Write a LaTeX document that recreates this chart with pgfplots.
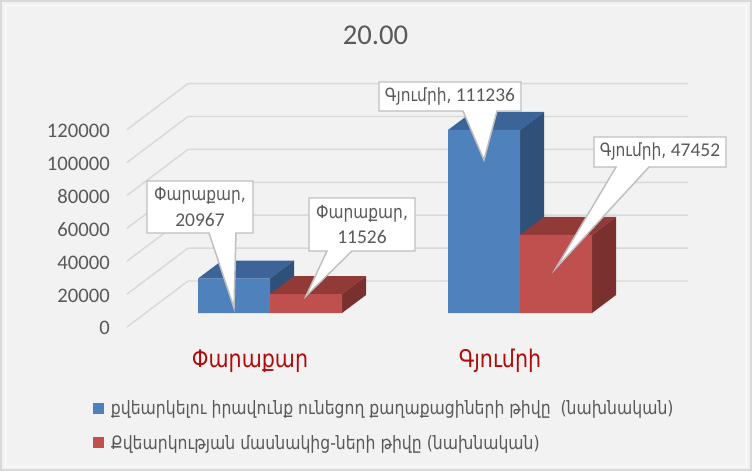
\documentclass[border=0pt]{standalone}
\usepackage{fontspec}
\usepackage{pgfplots}
\pgfplotsset{compat=1.18}
\setmainfont{Carlito}
\newfontfamily\arm[FakeStretch=0.85]{DejaVu Sans}
\definecolor{bgc}{HTML}{F2F2F2}
\definecolor{gridc}{HTML}{D9D9D9}
\definecolor{txt}{HTML}{595959}
\definecolor{bluef}{HTML}{4F81BD}
\definecolor{bluet}{HTML}{3C6499}
\definecolor{blues}{HTML}{2F5179}
\definecolor{redf}{HTML}{C0504D}
\definecolor{redt}{HTML}{913A37}
\definecolor{reds}{HTML}{7A302E}
\definecolor{catc}{HTML}{B00A0A}
\pgfplotsset{sq legend/.style={legend image code/.code={\fill[##1] (0pt,-4pt) rectangle (8.25pt,4.25pt);}}}
\begin{document}
\begin{tikzpicture}
\path[use as bounding box] (0,0) rectangle (564pt,353.25pt);
\begin{axis}[
    scale only axis,
    width=564pt, height=353.25pt,
    xmin=-1.08, xmax=1.928,
    ymin=-96040, ymax=190257,
    axis background/.style={fill=bgc},
    axis line style={draw=none},
    major tick length=0pt,
    /pgf/number format/assume math mode=true,
    /pgf/number format/fixed,
    /pgf/number format/1000 sep={},
    xtick={0,1},
    xticklabels={Փարաքար,Գյումրի},
    x tick label style={font=\arm\fontsize{18.2}{20}\selectfont, text=catc, anchor=center, xshift=-15pt, yshift=82.5pt},
    ytick={0,20000,40000,60000,80000,100000,120000},
    scaled y ticks=false,
    y tick label style={font=\fontsize{15.5}{18}\selectfont, text=txt, anchor=east, xshift=82.5pt, yshift=-11.5pt},
    tick label style={inner sep=0pt},
    title={20.00},
    title style={at={(axis description cs:0.4993,0.9087)}, anchor=center, font=\fontsize{21.5}{24}\selectfont, text=txt},
    clip=false,
    legend style={at={(axis description cs:0.1237,0.155)}, anchor=north west, draw=none, fill=none,
        font=\arm\fontsize{13.8}{16}\selectfont, text=txt, row sep=9.6pt, column sep=3pt, inner sep=0pt, cells={anchor=west}},
]
% walls and grid lines
\addplot[gridc, line width=1.1pt, forget plot] coordinates {(-0.572,-8510) (-0.328,19451) (1.672,19451)};
\addplot[gridc, line width=1.1pt, forget plot] coordinates {(-0.572,11490) (-0.328,39451) (1.672,39451)};
\addplot[gridc, line width=1.1pt, forget plot] coordinates {(-0.572,31490) (-0.328,59451) (1.672,59451)};
\addplot[gridc, line width=1.1pt, forget plot] coordinates {(-0.572,51490) (-0.328,79451) (1.672,79451)};
\addplot[gridc, line width=1.1pt, forget plot] coordinates {(-0.572,71490) (-0.328,99451) (1.672,99451)};
\addplot[gridc, line width=1.1pt, forget plot] coordinates {(-0.572,91490) (-0.328,119451) (1.672,119451)};
\addplot[gridc, line width=1.1pt, forget plot] coordinates {(-0.572,111490) (-0.328,139451) (1.672,139451)};

% first series
\addplot[fill=bluet, draw=none, forget plot] coordinates {(-0.288,20967) (0,20967) (0.096,31908) (-0.192,31908)} -- cycle;
\addplot[fill=blues, draw=none, forget plot] coordinates {(0,0) (0.096,10941) (0.096,31908) (0,20967)} -- cycle;
\addplot[fill=bluet, draw=none, forget plot] coordinates {(0.712,111236) (1,111236) (1.096,122177) (0.808,122177)} -- cycle;
\addplot[fill=blues, draw=none, forget plot] coordinates {(1,0) (1.096,10941) (1.096,122177) (1,111236)} -- cycle;
\addplot[ybar, bar width=0.288, bar shift=-0.144, fill=bluef, draw=none, sq legend] coordinates {(0,20967) (1,111236)};
\addlegendentry{քվեարկելու իրավունք ունեցող քաղաքացիների թիվը\ \ (նախնական)}

% second series
\addplot[fill=redt, draw=none, forget plot] coordinates {(0,11526) (0.288,11526) (0.384,22467) (0.096,22467)} -- cycle;
\addplot[fill=reds, draw=none, forget plot] coordinates {(0.288,0) (0.384,10941) (0.384,22467) (0.288,11526)} -- cycle;
\addplot[fill=redt, draw=none, forget plot] coordinates {(1,47452) (1.288,47452) (1.384,58393) (1.096,58393)} -- cycle;
\addplot[fill=reds, draw=none, forget plot] coordinates {(1.288,0) (1.384,10941) (1.384,58393) (1.288,47452)} -- cycle;
\addplot[ybar, bar width=0.288, bar shift=0.144, fill=redf, draw=none, sq legend] coordinates {(0,11526) (1,47452)};
\addlegendentry{Քվեարկության մասնակից-ների թիվը (նախնական)}
\end{axis}

% frame and callouts, in pixels of the picture
\begin{scope}[shift={(0,353.25pt)}, x=0.75pt, y=-0.75pt]
\draw[black!15, line width=1.5pt] (1,1) rectangle (751,470);
\draw[white!70!bgc, line width=0.75pt] (5,5.5) rectangle (746,466);
\tikzset{callout/.style={fill=white, draw=black!25, line width=1.1pt, line join=miter},
  lab/.style={text=txt, align=center, inner sep=0pt, font=\fontsize{14.6}{19}\selectfont}}
\newcommand{\armlab}{\arm\fontsize{13.6}{19}\selectfont}
\draw[callout] (147,181) -- (253,181) -- (253,233) -- (236,233) -- (234,308) -- (209,233) -- (147,233) -- cycle;
\node[lab] at (200,207) {{\armlab Փարաքար,}\\20967};
\draw[callout] (309,198) -- (415,198) -- (415,251) -- (352,251) -- (306,296) -- (327,251) -- (309,251) -- cycle;
\node[lab] at (362,224.5) {{\armlab Փարաքար,}\\11526};
\draw[callout] (379,82) -- (521,82) -- (521,111) -- (497,111) -- (484,160) -- (463,111) -- (379,111) -- cycle;
\node[lab] at (450,96.5) {{\armlab Գյումրի,} 111236};
\draw[callout] (594,137) -- (726,137) -- (726,167) -- (649,167) -- (556,268) -- (616,167) -- (594,167) -- cycle;
\node[lab] at (660,152) {{\armlab Գյումրի,} 47452};
\end{scope}
\end{tikzpicture}
\end{document}
